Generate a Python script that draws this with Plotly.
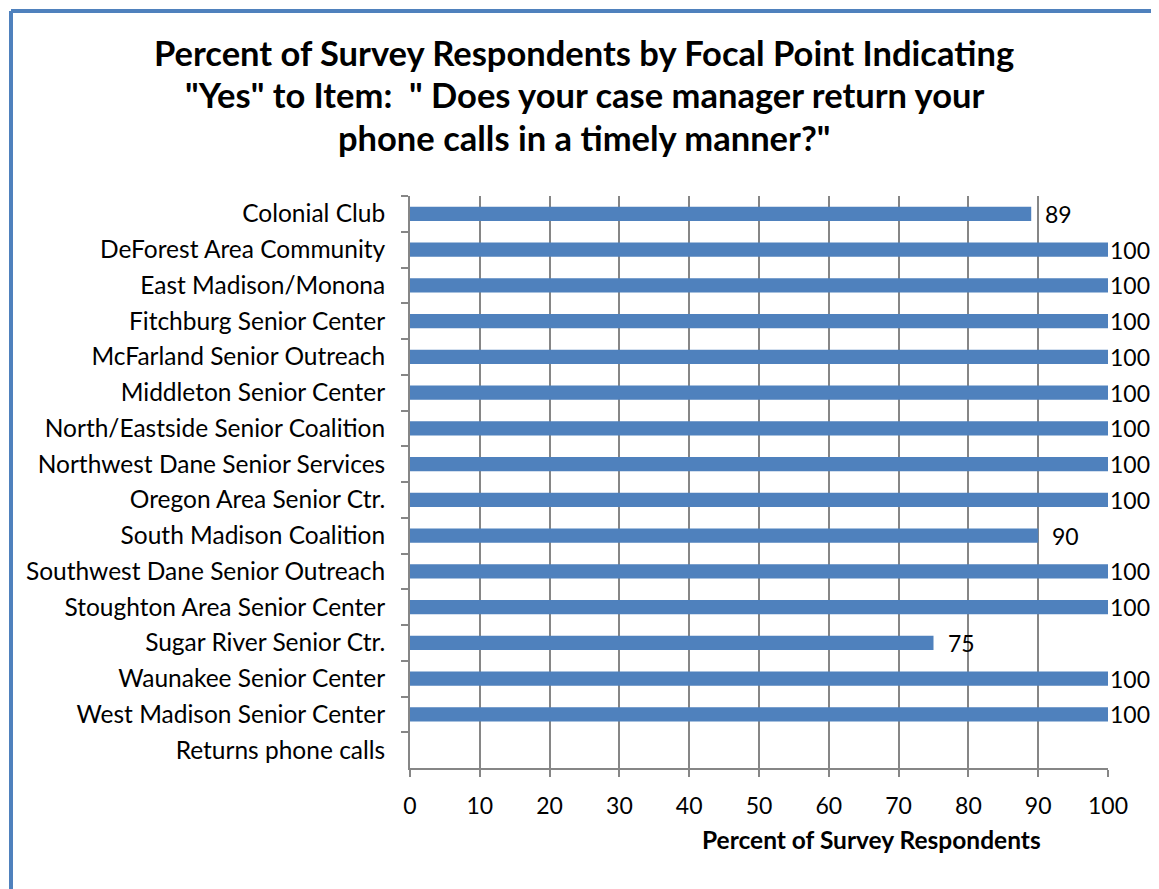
import plotly.graph_objects as go

categories = [
    "Colonial Club",
    "DeForest Area Community",
    "East Madison/Monona",
    "Fitchburg Senior Center",
    "McFarland Senior Outreach",
    "Middleton Senior Center",
    "North/Eastside Senior Coalition",
    "Northwest Dane Senior Services",
    "Oregon Area Senior Ctr.",
    "South Madison Coalition",
    "Southwest Dane Senior Outreach",
    "Stoughton Area Senior Center",
    "Sugar River Senior Ctr.",
    "Waunakee Senior Center",
    "West Madison Senior Center",
    "Returns phone calls",
]
values = [89, 100, 100, 100, 100, 100, 100, 100, 100, 90, 100, 100, 75, 100, 100, None]
x_ticks = [0, 10, 20, 30, 40, 50, 60, 70, 80, 90, 100]

title_lines = [
    'Percent of Survey Respondents by Focal Point Indicating',
    '"Yes" to Item:  " Does your case manager return your',
    'phone calls in a timely manner?"',
]
x_title = "Percent of Survey Respondents"

FONT = "Lato, Carlito, Calibri, sans-serif"
BAR = "#4F81BD"
GRID = "#868686"

OFF = 8  # page body margin
W, H = 1159 - OFF, 889 - OFF
L = 410 - OFF
T = 196 - OFF
R = W - (1108 - OFF)
B = H - (768 - OFF)
pw, ph = W - L - R, H - T - B


def px_x(p):
    return (p - OFF - L) / pw


def px_y(p):
    return (H - B - (p - OFF)) / ph


fig = go.Figure()
fig.add_trace(go.Bar(
    y=categories, x=values, orientation="h",
    marker=dict(color=BAR, line=dict(width=0)),
    width=0.4, hoverinfo="x+y",
))

annotations = []
for c, v in zip(categories, values):
    if v is None:
        continue
    annotations.append(dict(
        x=v, y=c, xref="x", yref="y", text=str(v), showarrow=False,
        xanchor="left", yanchor="middle",
        xshift=0 if v >= 100 else 12,
        font=dict(family=FONT, size=23, color="#000000"),
    ))

for i, line in enumerate(title_lines):
    annotations.append(dict(
        x=px_x(584), y=px_y(52 + 43 * i), xref="paper", yref="paper",
        text="<b>" + line + "</b>", showarrow=False,
        xanchor="center", yanchor="middle", align="center",
        font=dict(family=FONT, size=34.5, color="#000000"),
    ))
annotations.append(dict(
    x=px_x(871), y=px_y(839), xref="paper", yref="paper",
    text="<b>" + x_title + "</b>", showarrow=False,
    xanchor="center", yanchor="middle",
    font=dict(family=FONT, size=24.5, color="#000000"),
))

bc = BAR
xl, xr = px_x(11), px_x(1155)
yt, yb = px_y(11), px_y(900)
shapes = [
    dict(type="line", xref="paper", yref="paper", x0=xl, x1=xl, y0=yb, y1=yt,
         line=dict(color=bc, width=4)),
    dict(type="line", xref="paper", yref="paper", x0=xl, x1=xr, y0=yt, y1=yt,
         line=dict(color=bc, width=4)),
    dict(type="line", xref="paper", yref="paper", x0=xr, x1=xr, y0=yb, y1=yt,
         line=dict(color=bc, width=4)),
]

fig.update_layout(
    width=W, height=H,
    margin=dict(l=L, r=R, t=T, b=B),
    paper_bgcolor="white", plot_bgcolor="white",
    showlegend=False,
    annotations=annotations,
    shapes=shapes,
    font=dict(family=FONT, size=23, color="#000000"),
    xaxis=dict(
        range=[0, 100], tickvals=x_ticks, ticktext=[str(t) for t in x_ticks],
        showgrid=True, gridcolor=GRID, gridwidth=1.8,
        showline=True, linecolor=GRID, linewidth=1.8,
        ticks="outside", ticklen=7, tickcolor=GRID, tickwidth=1.8,
        ticklabelstandoff=9,
        tickfont=dict(family=FONT, size=23, color="#000000"),
        zeroline=False, fixedrange=True,
    ),
    yaxis=dict(
        categoryorder="array", categoryarray=categories,
        autorange="reversed",
        showgrid=False,
        showline=True, linecolor=GRID, linewidth=1.8,
        ticks="outside", ticklen=7, tickcolor=GRID, tickwidth=1.8,
        tickson="boundaries", ticklabelstandoff=18,
        tickfont=dict(family=FONT, size=24.5, color="#000000"),
        fixedrange=True,
    ),
)

fig.write_html("out.html")
